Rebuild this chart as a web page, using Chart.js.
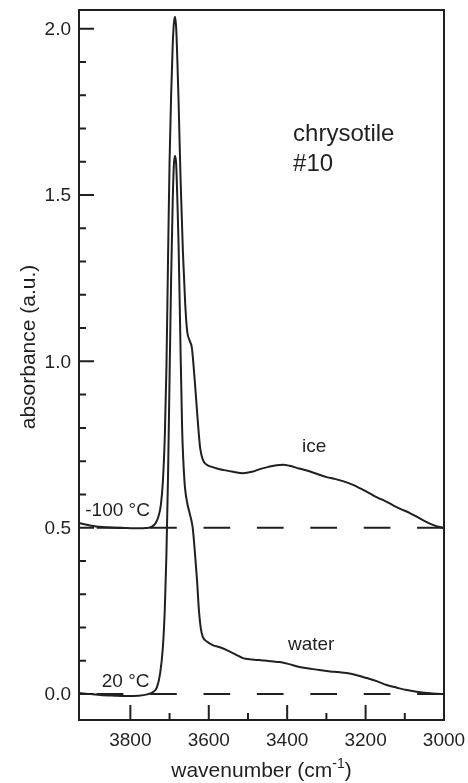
<!DOCTYPE html>
<html>
<head>
<meta charset="utf-8">
<script src="https://cdn.jsdelivr.net/npm/chart.js@4.4.0/dist/chart.umd.min.js"></script>
<style>
  html, body { margin: 0; padding: 0; background: #fff; }
  #wrap { width: 468px; height: 783px; }
</style>
</head>
<body>
<div id="wrap"><canvas id="spectrum" width="468" height="783"></canvas></div>
<script>
// spectrum at -100 °C (ice), wavenumber in cm-1 / absorbance
const iceWn = [3930, 3900, 3870, 3840, 3809, 3780, 3760, 3745, 3735, 3728, 3722, 3717, 3712, 3708, 3704, 3700, 3696, 3692, 3689, 3686, 3683, 3680, 3677, 3672, 3666, 3660, 3655, 3648, 3643, 3635, 3628, 3622, 3615, 3605, 3590, 3579, 3560, 3538, 3513, 3490, 3470, 3450, 3427, 3410, 3394, 3370, 3350, 3325, 3299, 3280, 3258, 3235, 3215, 3195, 3172, 3150, 3131, 3110, 3087, 3065, 3044, 3025, 3011, 3000];
const iceAbs = [0.514, 0.506, 0.502, 0.500, 0.499, 0.498, 0.499, 0.503, 0.515, 0.535, 0.570, 0.640, 0.780, 0.980, 1.300, 1.600, 1.800, 1.950, 2.015, 2.036, 2.000, 1.900, 1.780, 1.550, 1.330, 1.170, 1.090, 1.060, 1.040, 0.930, 0.820, 0.740, 0.704, 0.689, 0.682, 0.678, 0.673, 0.668, 0.664, 0.668, 0.676, 0.682, 0.688, 0.689, 0.686, 0.678, 0.672, 0.662, 0.652, 0.647, 0.640, 0.630, 0.619, 0.607, 0.592, 0.580, 0.568, 0.556, 0.544, 0.530, 0.517, 0.507, 0.502, 0.499];

// spectrum at 20 °C (water)
const waterWn = [3930, 3900, 3877, 3840, 3808, 3780, 3757, 3742, 3732, 3724, 3717, 3712, 3708, 3704, 3700, 3696, 3692, 3689, 3686, 3683, 3680, 3677, 3673, 3668, 3662, 3655, 3648, 3641, 3635, 3630, 3625, 3620, 3615, 3605, 3590, 3570, 3554, 3530, 3513, 3490, 3470, 3452, 3430, 3419, 3395, 3368, 3345, 3318, 3290, 3270, 3248, 3220, 3197, 3170, 3146, 3120, 3095, 3070, 3044, 3020, 3000];
const waterAbs = [0.003, 0.000, -0.003, -0.005, -0.006, -0.005, -0.001, 0.006, 0.021, 0.063, 0.141, 0.260, 0.420, 0.650, 0.950, 1.250, 1.480, 1.590, 1.618, 1.590, 1.480, 1.350, 1.100, 0.800, 0.640, 0.575, 0.540, 0.500, 0.420, 0.343, 0.250, 0.195, 0.171, 0.158, 0.147, 0.140, 0.132, 0.118, 0.108, 0.104, 0.102, 0.100, 0.097, 0.096, 0.090, 0.081, 0.077, 0.072, 0.068, 0.066, 0.063, 0.056, 0.048, 0.038, 0.027, 0.019, 0.012, 0.007, 0.003, 0.001, 0.000];

// dashed zero lines of the two spectra
const baseWn = [3931, 3000];
const iceBaseline = 0.5;
const waterBaseline = 0.0;

// axes
const xTicks = [3800, 3600, 3400, 3200, 3000];
const xMinorTicks = [3700, 3500, 3300, 3100];
const yTicks = [0.0, 0.5, 1.0, 1.5, 2.0];
const yMinorTicks = [0.1, 0.2, 0.3, 0.4, 0.6, 0.7, 0.8, 0.9, 1.1, 1.2, 1.3, 1.4, 1.6, 1.7, 1.8, 1.9];

const FONT = '"Liberation Sans", Arial, Helvetica, sans-serif';
const INK = '#231f20';

// text put on the plot, anchored in data units
const notes = [
  { text: 'chrysotile', x: 3385, y: 1.663, size: 24 },
  { text: '#10', x: 3385, y: 1.572, size: 24 },
  { text: 'ice', x: 3362, y: 0.728, size: 19 },
  { text: 'water', x: 3398, y: 0.132, size: 19 },
  { text: '-100 °C', x: 3915, y: 0.535, size: 19 },
  { text: '20 °C', x: 3873, y: 0.021, size: 19 }
];

const toPoints = (xs, ys) => xs.map((x, i) => ({ x, y: ys[i] }));

const framePlugin = {
  id: 'frame',
  afterDraw(chart) {
    const { ctx, chartArea: a, scales: { x, y } } = chart;
    ctx.save();
    ctx.strokeStyle = INK;
    ctx.lineWidth = 2;
    ctx.strokeRect(a.left, a.top, a.right - a.left, a.bottom - a.top);

    // ticks pointing into the plot
    ctx.beginPath();
    xTicks.forEach(v => { const px = x.getPixelForValue(v); ctx.moveTo(px, a.bottom); ctx.lineTo(px, a.bottom - 15); });
    xMinorTicks.forEach(v => { const px = x.getPixelForValue(v); ctx.moveTo(px, a.bottom); ctx.lineTo(px, a.bottom - 7); });
    yTicks.forEach(v => { const py = y.getPixelForValue(v); ctx.moveTo(a.left, py); ctx.lineTo(a.left + 15, py); });
    yMinorTicks.forEach(v => { const py = y.getPixelForValue(v); ctx.moveTo(a.left, py); ctx.lineTo(a.left + 7, py); });
    ctx.stroke();

    // tick labels
    ctx.fillStyle = INK;
    ctx.font = '19px ' + FONT;
    ctx.textAlign = 'center';
    ctx.textBaseline = 'alphabetic';
    xTicks.forEach(v => ctx.fillText(String(v), x.getPixelForValue(v), a.bottom + 26));
    ctx.textAlign = 'right';
    ctx.textBaseline = 'middle';
    yTicks.forEach(v => ctx.fillText(v.toFixed(1), a.left - 8, y.getPixelForValue(v) + 1));

    ctx.textBaseline = 'alphabetic';
    ctx.textAlign = 'left';
    notes.forEach(n => {
      ctx.font = n.size + 'px ' + FONT;
      ctx.fillText(n.text, x.getPixelForValue(n.x), y.getPixelForValue(n.y));
    });

    // x title with superscript
    const big = '21px ' + FONT, small = '14px ' + FONT;
    ctx.font = big;
    const w1 = ctx.measureText('wavenumber (cm').width;
    const w3 = ctx.measureText(')').width;
    ctx.font = small;
    const w2 = ctx.measureText('-1').width;
    const tx = (a.left + a.right) / 2 - (w1 + w2 + w3) / 2;
    const ty = 777;
    ctx.font = big;
    ctx.fillText('wavenumber (cm', tx, ty);
    ctx.font = small;
    ctx.fillText('-1', tx + w1, ty - 9);
    ctx.font = big;
    ctx.fillText(')', tx + w1 + w2, ty);

    // y title
    ctx.translate(35, 347);
    ctx.rotate(-Math.PI / 2);
    ctx.textAlign = 'center';
    ctx.font = big;
    ctx.fillText('absorbance (a.u.)', 0, 0);
    ctx.restore();
  }
};

new Chart(document.getElementById('spectrum'), {
  type: 'line',
  data: {
    datasets: [
      { label: '-100 °C', data: toPoints(iceWn, iceAbs), borderColor: INK, borderWidth: 2, pointRadius: 0, cubicInterpolationMode: 'monotone', order: 1 },
      { label: '20 °C', data: toPoints(waterWn, waterAbs), borderColor: INK, borderWidth: 2, pointRadius: 0, cubicInterpolationMode: 'monotone', order: 1 },
      { label: 'baseline -100 °C', data: baseWn.map(x => ({ x, y: iceBaseline })), borderColor: INK, borderWidth: 2, pointRadius: 0, borderDash: [26.7, 26.7], borderDashOffset: 35.7, order: 2 },
      { label: 'baseline 20 °C', data: baseWn.map(x => ({ x, y: waterBaseline })), borderColor: INK, borderWidth: 2, pointRadius: 0, borderDash: [26.7, 26.7], borderDashOffset: 35.7, order: 2 }
    ]
  },
  options: {
    responsive: false,
    animation: false,
    layout: { padding: { top: 10, right: 24, bottom: 0, left: 0 } },
    plugins: { legend: { display: false }, tooltip: { enabled: false } },
    scales: {
      x: {
        type: 'linear',
        reverse: true,
        min: 3000,
        max: 3931,
        afterBuildTicks: s => { s.ticks = xTicks.map(v => ({ value: v })); },
        afterFit: s => { s.height = 63; },
        grid: { display: false, drawTicks: false },
        border: { display: false },
        ticks: { display: false }
      },
      y: {
        type: 'linear',
        min: -0.078,
        max: 2.056,
        afterBuildTicks: s => { s.ticks = yTicks.map(v => ({ value: v })); },
        afterFit: s => { s.width = 79; },
        grid: { display: false, drawTicks: false },
        border: { display: false },
        ticks: { display: false }
      }
    }
  },
  plugins: [framePlugin]
});
</script>
</body>
</html>
